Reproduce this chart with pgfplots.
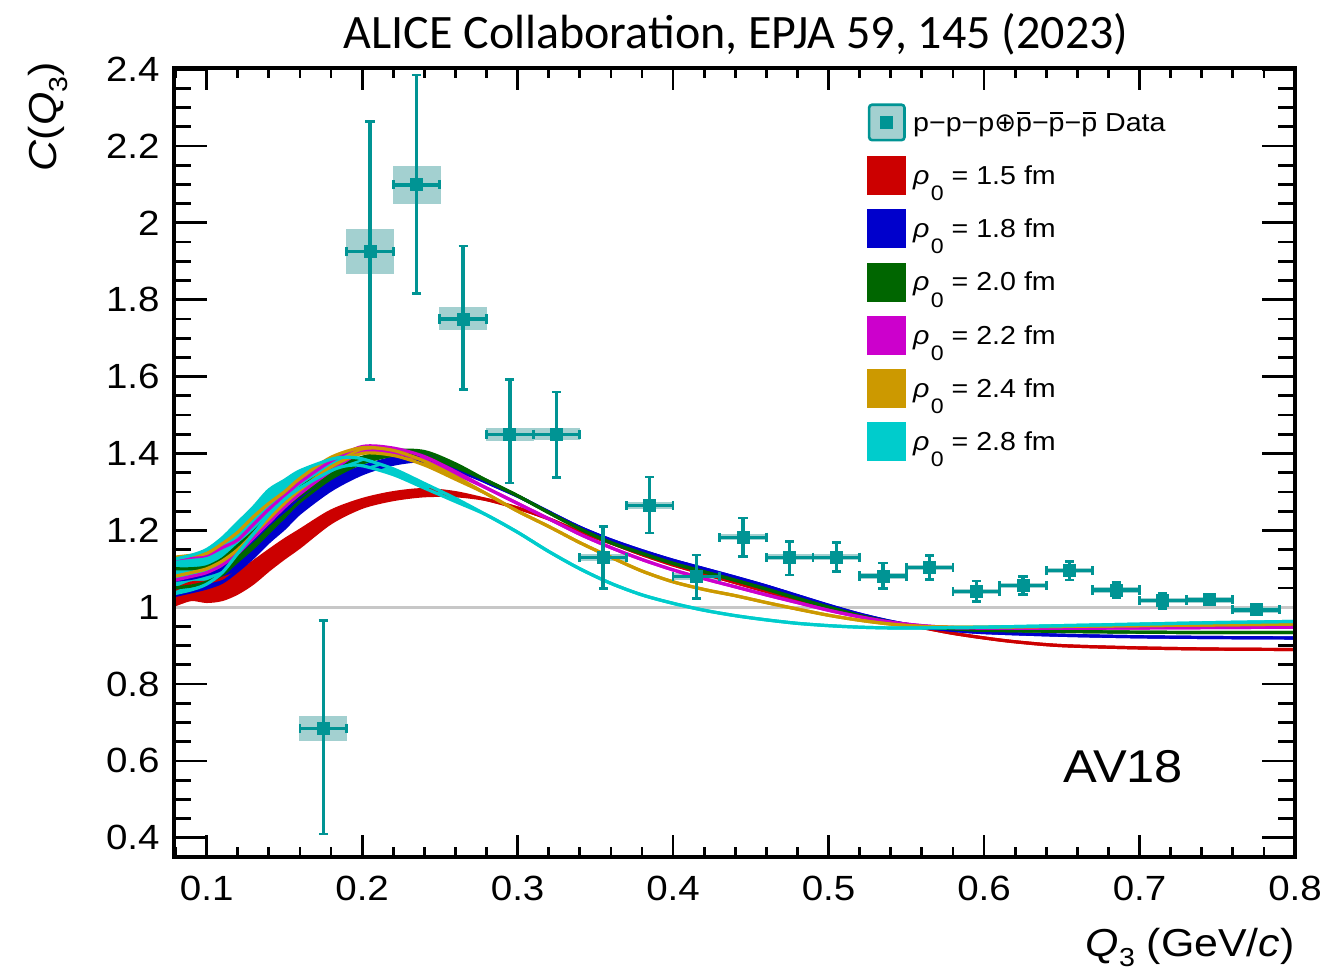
\documentclass[border=0pt]{standalone}
\usepackage{fontspec}
\setmainfont{Liberation Sans}[FakeStretch=1.1]
\newfontfamily\titlefont{Carlito}
\newfontfamily\dejavu{DejaVu Sans}
\usepackage{pgfplots}
\usepackage{pgfplotstable}
\usepgfplotslibrary{fillbetween}
\pgfplotsset{compat=1.18}
\definecolor{cRed}{RGB}{204,0,0}
\definecolor{cBlue}{RGB}{0,0,204}
\definecolor{cGreen}{RGB}{0,102,0}
\definecolor{cMag}{RGB}{204,0,204}
\definecolor{cGold}{RGB}{204,153,0}
\definecolor{cCyan}{RGB}{0,204,204}
\definecolor{cData}{RGB}{0,148,148}
\definecolor{cSyst}{RGB}{163,208,208}
\newcommand\pbar{\leavevmode\rlap{\hspace{0.05em}\rule[0.66em]{0.5em}{0.08em}}p}
\newcommand\rhoz{{\itshape ρ}\hspace{0.05em}\smash{\raisebox{-0.62em}{\fontsize{10.5}{11}\selectfont 0}}}

\pgfplotstableread{
x y ex ep em sys
0.175 0.685 0.015 0.280 0.275 0.032
0.205 1.925 0.015 0.338 0.332 0.059
0.235 2.099 0.015 0.286 0.283 0.049
0.265 1.750 0.015 0.190 0.183 0.030
0.295 1.450 0.015 0.143 0.127 0.017
0.325 1.450 0.015 0.110 0.112 0.015
0.355 1.129 0.015 0.081 0.081 0.010
0.385 1.265 0.015 0.074 0.072 0.010
0.415 1.080 0.015 0.056 0.057 0.008
0.445 1.182 0.015 0.050 0.050 0.008
0.475 1.130 0.015 0.041 0.046 0.008
0.505 1.130 0.015 0.038 0.037 0.008
0.535 1.081 0.015 0.034 0.032 0.007
0.565 1.104 0.015 0.030 0.031 0.007
0.595 1.041 0.015 0.027 0.027 0.007
0.625 1.056 0.015 0.024 0.024 0.007
0.655 1.095 0.015 0.024 0.024 0.007
0.685 1.045 0.015 0.020 0.021 0.007
0.715 1.017 0.015 0.020 0.020 0.007
0.745 1.019 0.015 0.013 0.013 0.007
0.775 0.993 0.015 0.013 0.013 0.007
}\tData

\pgfplotstableread{
x lo up
0.079 1.005 1.045
0.09 1.020 1.063
0.10 1.015 1.065
0.11 1.020 1.075
0.12 1.037 1.090
0.13 1.063 1.118
0.14 1.097 1.147
0.15 1.128 1.175
0.16 1.157 1.200
0.18 1.220 1.250
0.20 1.260 1.280
0.22 1.280 1.298
0.24 1.290 1.306
0.26 1.290 1.298
0.28 1.280 1.280
0.30 1.258 1.258
0.32 1.230 1.230
0.34 1.196 1.196
0.36 1.167 1.167
0.38 1.137 1.137
0.40 1.110 1.110
0.42 1.087 1.087
0.44 1.064 1.064
0.46 1.041 1.041
0.48 1.018 1.018
0.50 0.996 0.996
0.52 0.976 0.976
0.54 0.960 0.960
0.56 0.947 0.947
0.58 0.932 0.932
0.60 0.920 0.920
0.62 0.910 0.910
0.65 0.900 0.900
0.70 0.894 0.894
0.75 0.891 0.891
0.80 0.890 0.890
}\tRed

\pgfplotstableread{
x lo up
0.079 1.030 1.070
0.09 1.040 1.075
0.10 1.050 1.085
0.11 1.065 1.100
0.12 1.095 1.140
0.13 1.130 1.175
0.14 1.170 1.215
0.15 1.205 1.250
0.16 1.245 1.280
0.18 1.305 1.333
0.20 1.347 1.365
0.22 1.372 1.388
0.24 1.380 1.395
0.26 1.357 1.367
0.28 1.325 1.325
0.30 1.289 1.289
0.32 1.248 1.248
0.34 1.208 1.208
0.36 1.175 1.175
0.38 1.147 1.147
0.40 1.122 1.122
0.42 1.100 1.100
0.44 1.078 1.078
0.46 1.055 1.055
0.48 1.030 1.030
0.50 1.005 1.005
0.52 0.982 0.982
0.54 0.963 0.963
0.56 0.949 0.949
0.58 0.940 0.940
0.60 0.934 0.934
0.65 0.927 0.927
0.70 0.923 0.923
0.75 0.921 0.921
0.80 0.920 0.920
}\tBlue

\pgfplotstableread{
x lo up
0.079 1.050 1.100
0.09 1.055 1.100
0.10 1.065 1.105
0.11 1.085 1.125
0.12 1.120 1.160
0.13 1.155 1.195
0.14 1.195 1.235
0.15 1.235 1.270
0.16 1.275 1.310
0.18 1.335 1.360
0.20 1.375 1.390
0.22 1.395 1.407
0.24 1.395 1.405
0.26 1.365 1.373
0.28 1.330 1.330
0.30 1.290 1.290
0.32 1.246 1.246
0.34 1.204 1.204
0.36 1.168 1.168
0.38 1.140 1.140
0.40 1.114 1.114
0.42 1.092 1.092
0.44 1.070 1.070
0.46 1.047 1.047
0.48 1.023 1.023
0.50 1.000 1.000
0.52 0.978 0.978
0.54 0.961 0.961
0.56 0.950 0.950
0.58 0.944 0.944
0.60 0.940 0.940
0.65 0.937 0.937
0.70 0.935 0.935
0.75 0.934 0.934
0.80 0.934 0.934
}\tGreen

\pgfplotstableread{
x lo up
0.079 1.070 1.125
0.09 1.080 1.130
0.10 1.090 1.135
0.11 1.110 1.155
0.12 1.140 1.175
0.13 1.180 1.215
0.14 1.220 1.255
0.15 1.260 1.290
0.16 1.295 1.325
0.18 1.355 1.380
0.20 1.403 1.418
0.22 1.402 1.414
0.24 1.382 1.392
0.26 1.347 1.353
0.28 1.310 1.310
0.30 1.270 1.270
0.32 1.230 1.230
0.34 1.190 1.190
0.36 1.155 1.155
0.38 1.124 1.124
0.40 1.097 1.097
0.42 1.074 1.074
0.44 1.053 1.053
0.46 1.032 1.032
0.48 1.012 1.012
0.50 0.992 0.992
0.52 0.975 0.975
0.54 0.961 0.961
0.56 0.952 0.952
0.58 0.947 0.947
0.60 0.946 0.946
0.65 0.945 0.945
0.70 0.946 0.946
0.75 0.947 0.947
0.80 0.948 0.948
}\tMag

\pgfplotstableread{
x lo up
0.079 1.080 1.130
0.09 1.090 1.135
0.10 1.100 1.140
0.11 1.120 1.165
0.12 1.150 1.195
0.13 1.190 1.235
0.14 1.230 1.270
0.15 1.270 1.300
0.16 1.305 1.335
0.18 1.365 1.390
0.20 1.400 1.415
0.22 1.395 1.408
0.24 1.370 1.380
0.26 1.333 1.340
0.28 1.295 1.295
0.30 1.250 1.250
0.32 1.210 1.210
0.34 1.168 1.168
0.36 1.130 1.130
0.38 1.094 1.094
0.40 1.066 1.066
0.42 1.046 1.046
0.44 1.030 1.030
0.46 1.012 1.012
0.48 0.995 0.995
0.50 0.979 0.979
0.52 0.966 0.966
0.54 0.956 0.956
0.56 0.950 0.950
0.58 0.948 0.948
0.60 0.948 0.948
0.65 0.950 0.950
0.70 0.952 0.952
0.75 0.954 0.954
0.80 0.956 0.956
}\tGold

\pgfplotstableread{
x lo up
0.079 1.035 1.125
0.09 1.045 1.135
0.10 1.060 1.150
0.11 1.090 1.180
0.12 1.140 1.220
0.13 1.190 1.260
0.14 1.240 1.305
0.15 1.280 1.330
0.16 1.310 1.355
0.18 1.355 1.385
0.19 1.368 1.390
0.20 1.368 1.386
0.22 1.345 1.360
0.24 1.310 1.322
0.26 1.275 1.283
0.28 1.240 1.240
0.30 1.195 1.195
0.32 1.145 1.145
0.34 1.100 1.100
0.36 1.062 1.062
0.38 1.032 1.032
0.40 1.010 1.010
0.42 0.992 0.992
0.44 0.978 0.978
0.46 0.967 0.967
0.48 0.958 0.958
0.50 0.952 0.952
0.52 0.948 0.948
0.54 0.946 0.946
0.56 0.946 0.946
0.58 0.947 0.947
0.60 0.948 0.948
0.65 0.952 0.952
0.70 0.956 0.956
0.75 0.960 0.960
0.80 0.963 0.963
}\tCyan

\newcommand\band[3]{%
  \addplot[name path=#3A, draw=none, forget plot, smooth, tension=0.5] table[x=x,y=up]{#1};
  \addplot[name path=#3B, draw=none, forget plot, smooth, tension=0.5] table[x=x,y=lo]{#1};
  \addplot[fill=#2, draw=none, forget plot] fill between[of=#3A and #3B];
  \addplot[#2, line width=1.6pt, smooth, tension=0.5, forget plot] table[x=x,y=up]{#1};
  \addplot[#2, line width=1.6pt, smooth, tension=0.5, forget plot] table[x=x,y=lo]{#1};
}

\pgfplotsset{
  common/.style={
    scale only axis, width=560.5pt, height=394.5pt,
    xmin=0.079, xmax=0.8, ymin=0.35, ymax=2.403,
    axis line style={line width=2pt},
    tick align=inside, xtick pos=both, ytick pos=both,
    xticklabel pos=lower, yticklabel pos=left,
    /pgf/number format/assume math mode=true,
    tick label style={font=\fontsize{17.5}{19}\selectfont},
    major tick style={line width=1.4pt, black},
    minor tick style={line width=1.4pt, black},
  }
}

\begin{document}
\begin{tikzpicture}
\begin{axis}[name=ax, common,
  xtick=\empty,
  ytick={0.4,0.6,0.8,1.0,1.2,1.4,1.6,1.8,2.0,2.2,2.4},
  minor ytick={0.35,0.45,0.5,0.55,0.65,0.7,0.75,0.85,0.9,0.95,1.05,1.1,1.15,1.25,1.3,1.35,1.45,1.5,1.55,1.65,1.7,1.75,1.85,1.9,1.95,2.05,2.1,2.15,2.25,2.3,2.35},
  major tick length=16.5pt, minor tick length=8.5pt,
  yticklabel style={anchor=east, xshift=-7pt, inner sep=0pt},
  legend style={at={(0.6182,0.9556)}, anchor=north west, draw=none, fill=none, inner sep=0pt,
    font=\fontsize{13}{14}\selectfont, row sep=7.25pt, column sep=3.5pt,
    nodes={inner sep=0pt, anchor=base west}},
]
\addlegendimage{legend image code/.code={\draw[cData, fill=cSyst, line width=1.3pt, rounded corners=1.5pt] (0.65pt,-4.35pt) rectangle (18.35pt,13.35pt); \fill[cData] (6.5pt,1.5pt) rectangle (12.5pt,7.5pt);}}
\addlegendentry{p−p−p{\dejavu ⊕}\pbar−\pbar−\pbar\ Data}
\addlegendimage{legend image code/.code={\fill[cRed] (0pt,-5pt) rectangle (19pt,14pt);}}
\addlegendentry{\rhoz\ = 1.5 fm}
\addlegendimage{legend image code/.code={\fill[cBlue] (0pt,-5pt) rectangle (19pt,14pt);}}
\addlegendentry{\rhoz\ = 1.8 fm}
\addlegendimage{legend image code/.code={\fill[cGreen] (0pt,-5pt) rectangle (19pt,14pt);}}
\addlegendentry{\rhoz\ = 2.0 fm}
\addlegendimage{legend image code/.code={\fill[cMag] (0pt,-5pt) rectangle (19pt,14pt);}}
\addlegendentry{\rhoz\ = 2.2 fm}
\addlegendimage{legend image code/.code={\fill[cGold] (0pt,-5pt) rectangle (19pt,14pt);}}
\addlegendentry{\rhoz\ = 2.4 fm}
\addlegendimage{legend image code/.code={\fill[cCyan] (0pt,-5pt) rectangle (19pt,14pt);}}
\addlegendentry{\rhoz\ = 2.8 fm}

\addplot[black!22, line width=1.4pt, forget plot] coordinates {(0.079,1) (0.8,1)};
\addplot[draw=none, forget plot, error bars/.cd, y dir=both, y explicit, error mark=none,
  error bar style={draw=cSyst, line width=24pt}] table[x=x, y=y, y error=sys] {\tData};
\band{\tRed}{cRed}{r}
\band{\tBlue}{cBlue}{b}
\band{\tGreen}{cGreen}{g}
\band{\tMag}{cMag}{m}
\band{\tGold}{cGold}{o}
\band{\tCyan}{cCyan}{c}
\addplot[only marks, mark=square*, mark size=3pt, cData, forget plot,
  error bars/.cd, x dir=both, x explicit, y dir=both, y explicit, error mark=-,
  error mark options={rotate=90, mark size=2.3pt, line width=1.4pt, cData},
  error bar style={line width=1.7pt, cData}]
  table[x=x, y=y, x error=ex, y error plus=ep, y error minus=em] {\tData};
\end{axis}
\begin{axis}[common, at={(ax.south west)}, anchor=south west,
  ytick=\empty,
  xtick={0.1,0.2,0.3,0.4,0.5,0.6,0.7,0.8},
  minor xtick={0.08,0.12,0.14,0.16,0.18,0.22,0.24,0.26,0.28,0.32,0.34,0.36,0.38,0.42,0.44,0.46,0.48,0.52,0.54,0.56,0.58,0.62,0.64,0.66,0.68,0.72,0.74,0.76,0.78},
  major tick length=11pt, minor tick length=5pt,
  xticklabel style={anchor=base, yshift=-21.5pt, inner sep=0pt},
]
\addplot[draw=none, forget plot] coordinates {(0.1,1) (0.7,1)};
\end{axis}
\node[anchor=base, inner sep=0pt, font=\titlefont\fontsize{24}{28}\selectfont] at ([xshift=0.75pt, yshift=9.5pt]ax.north) {ALICE Collaboration, EPJA 59, 145 (2023)};
\node[anchor=base east, inner sep=0pt, font=\fontsize{19.5}{22}\selectfont] at ([yshift=-49.5pt]ax.south east) {\textit{Q}\raisebox{-0.26em}{\fontsize{13}{13}\selectfont 3} (GeV/\textit{c})};
\node[rotate=90, anchor=base east, inner sep=0pt, font=\fontsize{19.5}{22}\selectfont] at ([xshift=-58.5pt, yshift=3pt]ax.north west) {\textit{C}(\textit{Q}\raisebox{-0.26em}{\fontsize{13}{13}\selectfont 3})};
\node[anchor=center, inner sep=0pt, font=\fontsize{23}{26}\selectfont] at ([xshift=474.5pt, yshift=45pt]ax.south west) {AV18};
\pgfresetboundingbox
\path[use as bounding box] ([xshift=-87pt,yshift=-56pt]ax.south west) rectangle ([xshift=17.5pt,yshift=34pt]ax.north east);
\end{tikzpicture}
\end{document}
